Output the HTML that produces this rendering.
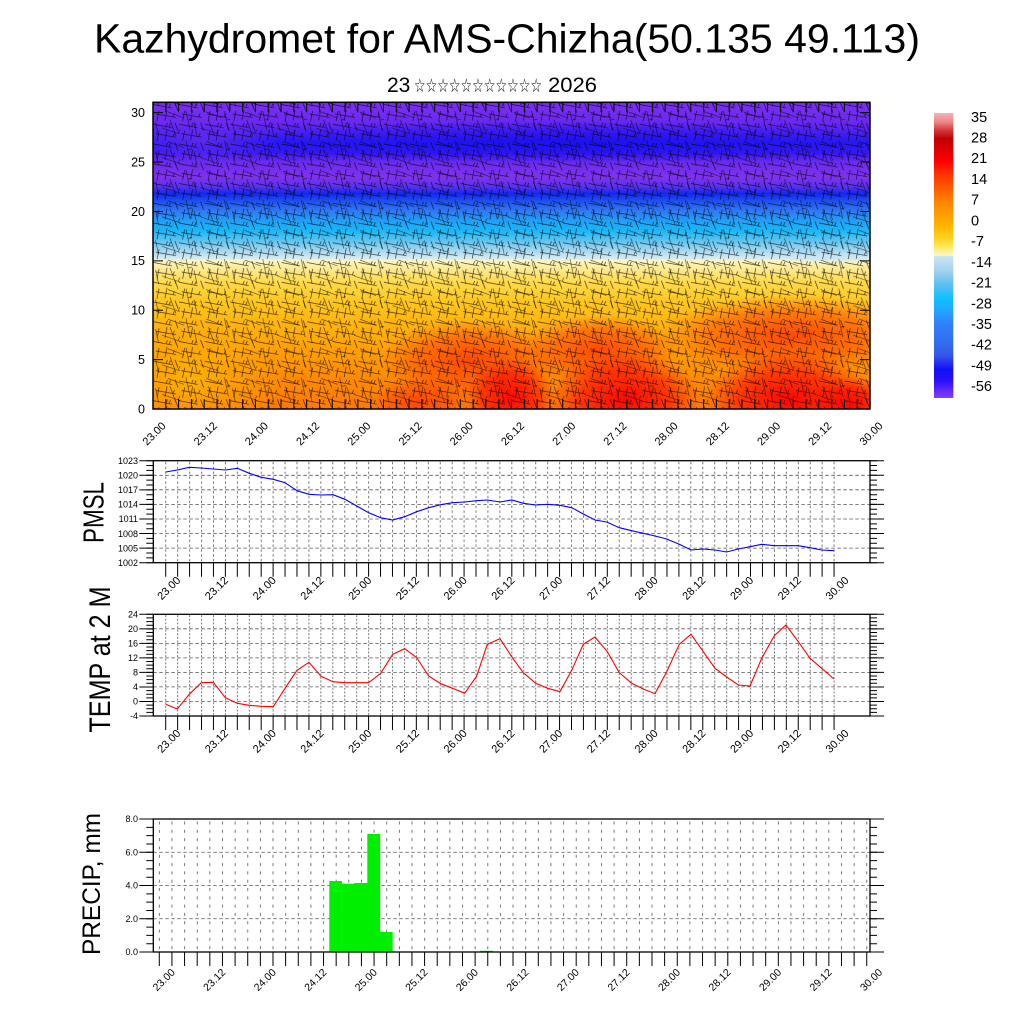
<!DOCTYPE html>
<html><head><meta charset="utf-8"><style>
html,body{margin:0;padding:0;background:#fff;}
svg{display:block;}
text{font-family:"Liberation Sans",Arial,sans-serif;fill:#000;}
</style></head><body>
<svg width="1024" height="1024" viewBox="0 0 1024 1024" xmlns="http://www.w3.org/2000/svg">
<defs>
 <linearGradient id="cb" x1="0" y1="0" x2="0" y2="1">
  <stop offset="0" stop-color="#f8b4b4"/>
  <stop offset="0.03" stop-color="#ec8a8a"/>
  <stop offset="0.06" stop-color="#d23a3a"/>
  <stop offset="0.09" stop-color="#c00000"/>
  <stop offset="0.13" stop-color="#e00000"/>
  <stop offset="0.17" stop-color="#ff0000"/>
  <stop offset="0.22" stop-color="#ff3800"/>
  <stop offset="0.27" stop-color="#ff6000"/>
  <stop offset="0.31" stop-color="#ff8400"/>
  <stop offset="0.36" stop-color="#ffa000"/>
  <stop offset="0.40" stop-color="#ffb800"/>
  <stop offset="0.44" stop-color="#ffd020"/>
  <stop offset="0.47" stop-color="#ffe860"/>
  <stop offset="0.50" stop-color="#fff8c0"/>
  <stop offset="0.503" stop-color="#c8e6f4"/>
  <stop offset="0.55" stop-color="#a8d4ee"/>
  <stop offset="0.60" stop-color="#60c0f0"/>
  <stop offset="0.65" stop-color="#10c0ff"/>
  <stop offset="0.69" stop-color="#20a8ff"/>
  <stop offset="0.74" stop-color="#3080ff"/>
  <stop offset="0.80" stop-color="#3070f0"/>
  <stop offset="0.85" stop-color="#3858e8"/>
  <stop offset="0.90" stop-color="#1010f8"/>
  <stop offset="0.94" stop-color="#2a10f8"/>
  <stop offset="1" stop-color="#8a3cf8"/>
 </linearGradient>
 <linearGradient id="fld" x1="0" y1="0" x2="0" y2="1">
  <stop offset="0" stop-color="#7b30f0"/>
  <stop offset="0.067" stop-color="#6a28f2"/>
  <stop offset="0.131" stop-color="#2818f2"/>
  <stop offset="0.164" stop-color="#3418f0"/>
  <stop offset="0.195" stop-color="#6a2af0"/>
  <stop offset="0.244" stop-color="#7f32ee"/>
  <stop offset="0.276" stop-color="#5a30f0"/>
  <stop offset="0.299" stop-color="#1228f0"/>
  <stop offset="0.323" stop-color="#2050f0"/>
  <stop offset="0.355" stop-color="#3078f5"/>
  <stop offset="0.388" stop-color="#20a0f8"/>
  <stop offset="0.42" stop-color="#18b8f8"/>
  <stop offset="0.453" stop-color="#60c4f0"/>
  <stop offset="0.485" stop-color="#a8d8f0"/>
  <stop offset="0.511" stop-color="#d8ecf4"/>
  <stop offset="0.517" stop-color="#fff6c0"/>
  <stop offset="0.55" stop-color="#ffe888"/>
  <stop offset="0.582" stop-color="#ffdc50"/>
  <stop offset="0.646" stop-color="#ffc820"/>
  <stop offset="0.71" stop-color="#ffb810"/>
  <stop offset="0.807" stop-color="#ffa000"/>
  <stop offset="0.904" stop-color="#ff8a00"/>
  <stop offset="1" stop-color="#ff7a00"/>
 </linearGradient>
 <radialGradient id="gRed"><stop offset="0" stop-color="#ff0000" stop-opacity="0.95"/><stop offset="0.6" stop-color="#ff1000" stop-opacity="0.65"/><stop offset="1" stop-color="#ff2000" stop-opacity="0"/></radialGradient>
 <radialGradient id="gOR"><stop offset="0" stop-color="#ff4000" stop-opacity="0.9"/><stop offset="0.6" stop-color="#ff4800" stop-opacity="0.55"/><stop offset="1" stop-color="#ff5000" stop-opacity="0"/></radialGradient>
 <radialGradient id="gYel"><stop offset="0" stop-color="#ffb800" stop-opacity="0.85"/><stop offset="1" stop-color="#ffb800" stop-opacity="0"/></radialGradient>
 <radialGradient id="gBlue"><stop offset="0" stop-color="#1a10f0" stop-opacity="0.85"/><stop offset="1" stop-color="#1a10f0" stop-opacity="0"/></radialGradient>
 <radialGradient id="gPur"><stop offset="0" stop-color="#7030f0" stop-opacity="0.7"/><stop offset="1" stop-color="#7030f0" stop-opacity="0"/></radialGradient>
 <radialGradient id="gLB"><stop offset="0" stop-color="#c8e4f4" stop-opacity="0.9"/><stop offset="1" stop-color="#c8e4f4" stop-opacity="0"/></radialGradient>
 <clipPath id="cp"><rect x="153" y="102" width="717" height="307"/></clipPath>
 <pattern id="b1" patternUnits="userSpaceOnUse" x="153" y="102" width="25.6" height="19.75">
  <path d="M0.5 2.5 L19 6 M16 5.4 L17.5 1.8 M13 4.8 L14.5 1.2 M3 12 L23 15.5 M20 15 L21.5 11.5 M6 9 L4 19 M14 8 L12 18.5 M22 1 L25 9" stroke="#000" stroke-width="0.7" fill="none" opacity="0.75"/>
 </pattern>
 <pattern id="b2" patternUnits="userSpaceOnUse" x="160" y="108" width="38.4" height="29.6">
  <path d="M2 20 L20 26 M18 25.4 L20 21.5 M26 3 L30 22 M28 12 L32 11 M8 4 L24 10 M34 14 L37 28 M10 12 L16 28" stroke="#000" stroke-width="0.6" fill="none" opacity="0.7"/>
 </pattern>
 <pattern id="vgP" patternUnits="userSpaceOnUse" x="165.3" y="460.7" width="11.935" height="4.857">
  <rect x="0" y="1.2" width="0.8" height="2.4" fill="#555"/>
 </pattern>
 <pattern id="vgT" patternUnits="userSpaceOnUse" x="165.3" y="614.3" width="11.935" height="3.632">
  <rect x="0" y="0.8" width="0.8" height="2" fill="#555"/>
 </pattern>
 <pattern id="vgR" patternUnits="userSpaceOnUse" x="158.9" y="819" width="12.633" height="8.3125">
  <rect x="0" y="2.5" width="0.8" height="3" fill="#555"/>
 </pattern>
</defs>

<!-- Title -->
<text x="94" y="52.7" font-size="41" textLength="826" lengthAdjust="spacingAndGlyphs">Kazhydromet for AMS-Chizha(50.135 49.113)</text>
<text x="387" y="92" font-size="21">23</text>
<text x="414" y="92" font-size="19" fill="#555" textLength="128" lengthAdjust="spacingAndGlyphs" style="font-family:'DejaVu Sans',sans-serif">☆☆☆☆☆☆☆☆☆☆☆</text>
<text x="548" y="92" font-size="21" textLength="49" lengthAdjust="spacingAndGlyphs">2026</text>

<!-- Top panel -->
<g clip-path="url(#cp)">
 <rect x="153" y="102" width="717" height="307" fill="url(#fld)"/>
 <ellipse cx="560" cy="142" rx="320" ry="22" fill="url(#gBlue)"/>
 <ellipse cx="200" cy="140" rx="80" ry="30" fill="url(#gPur)"/>
 <ellipse cx="830" cy="258" rx="60" ry="6" fill="url(#gLB)"/>
 <ellipse cx="190" cy="380" rx="90" ry="55" fill="url(#gYel)"/>
 <ellipse cx="790" cy="335" rx="130" ry="40" fill="url(#gOR)"/>
 <ellipse cx="600" cy="350" rx="80" ry="35" fill="url(#gOR)"/>
 <ellipse cx="470" cy="360" rx="90" ry="40" fill="url(#gOR)"/>
 <ellipse cx="420" cy="402" rx="50" ry="25" fill="url(#gOR)"/>
 <ellipse cx="510" cy="398" rx="45" ry="40" fill="url(#gRed)"/>
 <ellipse cx="625" cy="400" rx="75" ry="48" fill="url(#gRed)"/>
 <ellipse cx="790" cy="400" rx="85" ry="48" fill="url(#gRed)"/>
 <ellipse cx="850" cy="405" rx="45" ry="28" fill="url(#gRed)"/>
 <rect x="153" y="102" width="717" height="307" fill="url(#b1)"/>
 <rect x="153" y="102" width="717" height="307" fill="url(#b2)"/>
</g>
<rect x="153" y="102.3" width="717" height="306.7" fill="none" stroke="#000" stroke-width="1.5"/>
<line x1="152.5" y1="404" x2="871" y2="404" stroke="#000" stroke-width="10" stroke-dasharray="1 11.804"/>
<line x1="152.5" y1="107.3" x2="871" y2="107.3" stroke="#000" stroke-width="10" stroke-dasharray="1 11.804"/>
<line x1="158" y1="409.5" x2="158" y2="102" stroke="#000" stroke-width="10" stroke-dasharray="1 48.39"/>
<line x1="865" y1="409.5" x2="865" y2="102" stroke="#000" stroke-width="10" stroke-dasharray="1 48.39"/>
<g font-size="12.5" text-anchor="end">
 <text x="145" y="409" dy="0.35em">0</text>
 <text x="145" y="359.6" dy="0.35em">5</text>
 <text x="145" y="310.2" dy="0.35em">10</text>
 <text x="145" y="260.8" dy="0.35em">15</text>
 <text x="145" y="211.5" dy="0.35em">20</text>
 <text x="145" y="162.1" dy="0.35em">25</text>
 <text x="145" y="112.7" dy="0.35em">30</text>
</g>
<g font-size="11" text-anchor="middle">
 <text transform="translate(154,433.5) rotate(-45)" dy="0.35em">23.00</text>
 <text transform="translate(205.2,433.5) rotate(-45)" dy="0.35em">23.12</text>
 <text transform="translate(256.4,433.5) rotate(-45)" dy="0.35em">24.00</text>
 <text transform="translate(307.6,433.5) rotate(-45)" dy="0.35em">24.12</text>
 <text transform="translate(358.9,433.5) rotate(-45)" dy="0.35em">25.00</text>
 <text transform="translate(410.1,433.5) rotate(-45)" dy="0.35em">25.12</text>
 <text transform="translate(461.3,433.5) rotate(-45)" dy="0.35em">26.00</text>
 <text transform="translate(512.5,433.5) rotate(-45)" dy="0.35em">26.12</text>
 <text transform="translate(563.7,433.5) rotate(-45)" dy="0.35em">27.00</text>
 <text transform="translate(614.9,433.5) rotate(-45)" dy="0.35em">27.12</text>
 <text transform="translate(666.1,433.5) rotate(-45)" dy="0.35em">28.00</text>
 <text transform="translate(717.4,433.5) rotate(-45)" dy="0.35em">28.12</text>
 <text transform="translate(768.6,433.5) rotate(-45)" dy="0.35em">29.00</text>
 <text transform="translate(819.8,433.5) rotate(-45)" dy="0.35em">29.12</text>
 <text transform="translate(871,433.5) rotate(-45)" dy="0.35em">30.00</text>
</g>

<!-- Colorbar -->
<rect x="934" y="113" width="19.3" height="285" fill="url(#cb)"/>
<g font-size="14.5">
 <text x="971" y="116.7" dy="0.35em">35</text>
 <text x="971" y="137.4" dy="0.35em">28</text>
 <text x="971" y="158.1" dy="0.35em">21</text>
 <text x="971" y="178.9" dy="0.35em">14</text>
 <text x="971" y="199.6" dy="0.35em">7</text>
 <text x="971" y="220.3" dy="0.35em">0</text>
 <text x="971" y="241.0" dy="0.35em">-7</text>
 <text x="971" y="261.7" dy="0.35em">-14</text>
 <text x="971" y="282.5" dy="0.35em">-21</text>
 <text x="971" y="303.2" dy="0.35em">-28</text>
 <text x="971" y="323.9" dy="0.35em">-35</text>
 <text x="971" y="344.6" dy="0.35em">-42</text>
 <text x="971" y="365.3" dy="0.35em">-49</text>
 <text x="971" y="386.1" dy="0.35em">-56</text>
</g>

<!-- PMSL panel -->
<rect x="165" y="461" width="670" height="101" fill="url(#vgP)"/>
<g stroke="#555" stroke-width="0.8" stroke-dasharray="3.5 2.5">
 <line x1="153.3" y1="475.3" x2="870" y2="475.3"/>
 <line x1="153.3" y1="489.8" x2="870" y2="489.8"/>
 <line x1="153.3" y1="504.4" x2="870" y2="504.4"/>
 <line x1="153.3" y1="519.0" x2="870" y2="519.0"/>
 <line x1="153.3" y1="533.6" x2="870" y2="533.6"/>
 <line x1="153.3" y1="548.1" x2="870" y2="548.1"/>
</g>
<polyline fill="none" stroke="#0000ff" stroke-width="1.1" points="165.7,472 177.3,470 189.3,467.3 201.3,468 213.3,469 225.3,470 237.3,468.3 249.3,473.3 261.3,477.3 273.3,479.3 285,482.7 297,490.7 309,494.3 321,495 333,494.7 345,499.3 356.7,506 368.7,512.7 380.7,517.7 392.7,520 404.7,516.7 416.7,511.7 428.7,507.7 440.7,504.7 452.7,502.7 464.7,502 476.7,500.7 487.3,500 500,502 511.7,500 523.3,503.3 535.7,505 547.7,504.3 560,505.3 571.7,507.7 583.3,514 595,520 606.7,522 619.3,527.7 631.7,530.7 643.3,533.3 655,536 666.7,539 679.3,544.3 691,550 703.3,549 715,550 726.7,552 738.3,549 750,546.7 761.7,544.3 774.3,545.7 786,545.7 798.3,545.7 810,547.7 821.7,550 834,550.7"/>
<rect x="153.3" y="460.7" width="716.7" height="102" fill="none" stroke="#000" stroke-width="1.3"/>
<line x1="146.3" y1="460.2" x2="146.3" y2="563.5" stroke="#000" stroke-width="14" stroke-dasharray="1 13.571"/>
<line x1="149.8" y1="460.2" x2="149.8" y2="563.5" stroke="#000" stroke-width="7" stroke-dasharray="1 3.857"/>
<line x1="877" y1="460.2" x2="877" y2="563.5" stroke="#000" stroke-width="14" stroke-dasharray="1 13.571"/>
<line x1="873.5" y1="460.2" x2="873.5" y2="563.5" stroke="#000" stroke-width="7" stroke-dasharray="1 3.857"/>
<line x1="165.2" y1="569.7" x2="834.6" y2="569.7" stroke="#000" stroke-width="14" stroke-dasharray="1 10.935"/>
<g font-size="9" text-anchor="end">
 <text x="138" y="460.7" dy="0.35em">1023</text>
 <text x="138" y="475.3" dy="0.35em">1020</text>
 <text x="138" y="489.8" dy="0.35em">1017</text>
 <text x="138" y="504.4" dy="0.35em">1014</text>
 <text x="138" y="519.0" dy="0.35em">1011</text>
 <text x="138" y="533.6" dy="0.35em">1008</text>
 <text x="138" y="548.1" dy="0.35em">1005</text>
 <text x="138" y="562.7" dy="0.35em">1002</text>
</g>
<text transform="translate(103.3,512.5) rotate(-90)" text-anchor="middle" font-size="29" textLength="61" lengthAdjust="spacingAndGlyphs">PMSL</text>
<g font-size="11" text-anchor="middle">
 <text transform="translate(168.7,588) rotate(-45)" dy="0.35em">23.00</text>
 <text transform="translate(216.4,588) rotate(-45)" dy="0.35em">23.12</text>
 <text transform="translate(264.2,588) rotate(-45)" dy="0.35em">24.00</text>
 <text transform="translate(311.9,588) rotate(-45)" dy="0.35em">24.12</text>
 <text transform="translate(359.7,588) rotate(-45)" dy="0.35em">25.00</text>
 <text transform="translate(407.4,588) rotate(-45)" dy="0.35em">25.12</text>
 <text transform="translate(455.1,588) rotate(-45)" dy="0.35em">26.00</text>
 <text transform="translate(502.9,588) rotate(-45)" dy="0.35em">26.12</text>
 <text transform="translate(550.6,588) rotate(-45)" dy="0.35em">27.00</text>
 <text transform="translate(598.4,588) rotate(-45)" dy="0.35em">27.12</text>
 <text transform="translate(646.1,588) rotate(-45)" dy="0.35em">28.00</text>
 <text transform="translate(693.8,588) rotate(-45)" dy="0.35em">28.12</text>
 <text transform="translate(741.6,588) rotate(-45)" dy="0.35em">29.00</text>
 <text transform="translate(789.3,588) rotate(-45)" dy="0.35em">29.12</text>
 <text transform="translate(837,588) rotate(-45)" dy="0.35em">30.00</text>
</g>

<!-- TEMP panel -->
<rect x="165" y="614.5" width="670" height="101.5" fill="url(#vgT)"/>
<g stroke="#555" stroke-width="0.8" stroke-dasharray="3.5 2.5">
 <line x1="153.3" y1="628.8" x2="870" y2="628.8"/>
 <line x1="153.3" y1="643.4" x2="870" y2="643.4"/>
 <line x1="153.3" y1="657.9" x2="870" y2="657.9"/>
 <line x1="153.3" y1="672.4" x2="870" y2="672.4"/>
 <line x1="153.3" y1="686.9" x2="870" y2="686.9"/>
 <line x1="153.3" y1="701.5" x2="870" y2="701.5"/>
</g>
<polyline fill="none" stroke="#ff0000" stroke-width="1.1" points="165.7,704.3 177.3,709 189.3,694.3 201.3,682.7 213.3,682.3 225.3,697.7 237.3,703.3 249.3,705.3 261.3,706.3 273.3,706.7 285,688.3 297,670.3 309,662.3 321,676.3 333,681.7 345,682.7 356.7,682.7 368.7,682.7 380.7,673.3 392.7,654.3 404.7,648.7 416.7,657.7 428.7,676 440.7,683.7 452.7,688.3 464.7,693.3 476.7,676 487.3,644.3 500,638.7 511.7,656.7 523.3,672.7 535.7,683.3 547.7,688.3 560,691.7 571.7,670.3 583.3,644.3 595,637 607.3,651.7 619.3,672.7 631.7,683.3 643.3,689 655,693.7 666.7,671.7 679.3,644.3 691,634.3 703.3,651.7 715,668.3 726.7,677 738.3,685 750,686 761.7,658.3 774.3,635.7 786,625 798.3,641.7 810,658.3 821.7,668.3 834,679"/>
<rect x="153.3" y="614.3" width="716.7" height="101.7" fill="none" stroke="#000" stroke-width="1.3"/>
<line x1="146.3" y1="613.8" x2="146.3" y2="717" stroke="#000" stroke-width="14" stroke-dasharray="1 13.53"/>
<line x1="149.8" y1="613.8" x2="149.8" y2="717" stroke="#000" stroke-width="7" stroke-dasharray="1 2.632"/>
<line x1="877" y1="613.8" x2="877" y2="717" stroke="#000" stroke-width="14" stroke-dasharray="1 13.53"/>
<line x1="873.5" y1="613.8" x2="873.5" y2="717" stroke="#000" stroke-width="7" stroke-dasharray="1 2.632"/>
<line x1="165.2" y1="723" x2="834.6" y2="723" stroke="#000" stroke-width="14" stroke-dasharray="1 10.935"/>
<g font-size="9" text-anchor="end">
 <text x="138" y="614.3" dy="0.35em">24</text>
 <text x="138" y="628.8" dy="0.35em">20</text>
 <text x="138" y="643.4" dy="0.35em">16</text>
 <text x="138" y="657.9" dy="0.35em">12</text>
 <text x="138" y="672.4" dy="0.35em">8</text>
 <text x="138" y="686.9" dy="0.35em">4</text>
 <text x="138" y="701.5" dy="0.35em">0</text>
 <text x="138" y="716" dy="0.35em">-4</text>
</g>
<text transform="translate(110,659.5) rotate(-90)" text-anchor="middle" font-size="30" textLength="146" lengthAdjust="spacingAndGlyphs">TEMP at 2 M</text>
<g font-size="11" text-anchor="middle">
 <text transform="translate(168.7,741) rotate(-45)" dy="0.35em">23.00</text>
 <text transform="translate(216.4,741) rotate(-45)" dy="0.35em">23.12</text>
 <text transform="translate(264.2,741) rotate(-45)" dy="0.35em">24.00</text>
 <text transform="translate(311.9,741) rotate(-45)" dy="0.35em">24.12</text>
 <text transform="translate(359.7,741) rotate(-45)" dy="0.35em">25.00</text>
 <text transform="translate(407.4,741) rotate(-45)" dy="0.35em">25.12</text>
 <text transform="translate(455.1,741) rotate(-45)" dy="0.35em">26.00</text>
 <text transform="translate(502.9,741) rotate(-45)" dy="0.35em">26.12</text>
 <text transform="translate(550.6,741) rotate(-45)" dy="0.35em">27.00</text>
 <text transform="translate(598.4,741) rotate(-45)" dy="0.35em">27.12</text>
 <text transform="translate(646.1,741) rotate(-45)" dy="0.35em">28.00</text>
 <text transform="translate(693.8,741) rotate(-45)" dy="0.35em">28.12</text>
 <text transform="translate(741.6,741) rotate(-45)" dy="0.35em">29.00</text>
 <text transform="translate(789.3,741) rotate(-45)" dy="0.35em">29.12</text>
 <text transform="translate(837,741) rotate(-45)" dy="0.35em">30.00</text>
</g>

<!-- PRECIP panel -->
<rect x="158.5" y="819.5" width="709" height="132" fill="url(#vgR)"/>
<g stroke="#555" stroke-width="0.8" stroke-dasharray="3.5 2.5">
 <line x1="153.3" y1="852.25" x2="870" y2="852.25"/>
 <line x1="153.3" y1="885.5" x2="870" y2="885.5"/>
 <line x1="153.3" y1="918.75" x2="870" y2="918.75"/>
</g>
<g fill="#00ee00">
 <rect x="329.3" y="881" width="12.6" height="71"/>
 <rect x="341.7" y="883.7" width="12.8" height="68.3"/>
 <rect x="354.3" y="883" width="13.2" height="69"/>
 <rect x="367.3" y="834" width="12.9" height="118"/>
 <rect x="380" y="932" width="12.7" height="20"/>
 <rect x="480" y="950.8" width="13" height="1.2"/>
</g>
<rect x="153.3" y="819" width="716.7" height="133" fill="none" stroke="#000" stroke-width="1.3"/>
<line x1="146.3" y1="818.5" x2="146.3" y2="953" stroke="#000" stroke-width="14" stroke-dasharray="1 32.25"/>
<line x1="149.8" y1="818.5" x2="149.8" y2="953" stroke="#000" stroke-width="7" stroke-dasharray="1 7.3125"/>
<line x1="877" y1="818.5" x2="877" y2="953" stroke="#000" stroke-width="14" stroke-dasharray="1 32.25"/>
<line x1="873.5" y1="818.5" x2="873.5" y2="953" stroke="#000" stroke-width="7" stroke-dasharray="1 7.3125"/>
<line x1="158.8" y1="959" x2="867.5" y2="959" stroke="#000" stroke-width="14" stroke-dasharray="1 11.633"/>
<g font-size="9" text-anchor="end">
 <text x="138" y="819" dy="0.35em">8.0</text>
 <text x="138" y="852.25" dy="0.35em">6.0</text>
 <text x="138" y="885.5" dy="0.35em">4.0</text>
 <text x="138" y="918.75" dy="0.35em">2.0</text>
 <text x="138" y="952" dy="0.35em">0.0</text>
</g>
<text transform="translate(100,884) rotate(-90)" text-anchor="middle" font-size="25" textLength="142" lengthAdjust="spacingAndGlyphs">PRECIP, mm</text>
<g font-size="10.5" text-anchor="middle">
 <text transform="translate(163.7,979.7) rotate(-45)" dy="0.35em">23.00</text>
 <text transform="translate(214.2,979.7) rotate(-45)" dy="0.35em">23.12</text>
 <text transform="translate(264.8,979.7) rotate(-45)" dy="0.35em">24.00</text>
 <text transform="translate(315.3,979.7) rotate(-45)" dy="0.35em">24.12</text>
 <text transform="translate(365.8,979.7) rotate(-45)" dy="0.35em">25.00</text>
 <text transform="translate(416.3,979.7) rotate(-45)" dy="0.35em">25.12</text>
 <text transform="translate(466.9,979.7) rotate(-45)" dy="0.35em">26.00</text>
 <text transform="translate(517.4,979.7) rotate(-45)" dy="0.35em">26.12</text>
 <text transform="translate(567.9,979.7) rotate(-45)" dy="0.35em">27.00</text>
 <text transform="translate(618.5,979.7) rotate(-45)" dy="0.35em">27.12</text>
 <text transform="translate(669,979.7) rotate(-45)" dy="0.35em">28.00</text>
 <text transform="translate(719.5,979.7) rotate(-45)" dy="0.35em">28.12</text>
 <text transform="translate(770.1,979.7) rotate(-45)" dy="0.35em">29.00</text>
 <text transform="translate(820.6,979.7) rotate(-45)" dy="0.35em">29.12</text>
 <text transform="translate(871.1,979.7) rotate(-45)" dy="0.35em">30.00</text>
</g>
</svg>
</body></html>
